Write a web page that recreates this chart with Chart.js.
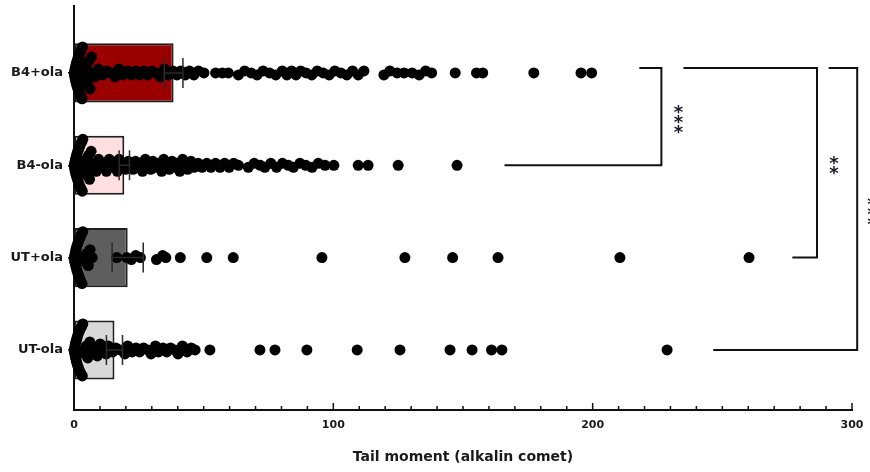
<!DOCTYPE html>
<html>
<head>
<meta charset="utf-8">
<script src="https://cdn.jsdelivr.net/npm/chart.js@4.4.1/dist/chart.umd.min.js"></script>
<style>
  html, body { margin: 0; padding: 0; background: #fff; }
  #wrap { width: 870px; height: 472px; }
</style>
</head>
<body>
<div id="wrap"><canvas id="comet"></canvas></div>
<script>
// groups, bottom row first
var groups = ['UT-ola', 'UT+ola', 'B4-ola', 'B4+ola'];
var means = [15.6, 20.7, 19.4, 38.4];
var sems = [3.1, 6.0, 2.0, 3.6];

// individual cells (tail moment)
var utMinus = [0.1, 0.2, 0.3, 0.4, 0.5, 0.6, 0.8, 0.9, 1.0, 1.2, 1.3, 1.5, 1.7, 1.9, 2.1, 2.3, 2.6, 2.9, 3.2, 3.4,
  3.8, 4.2, 4.7, 5.3, 6.1, 7.4, 8.2, 9.0, 10.1, 11.2, 12.4, 13.2, 14.9, 16.1, 17.8, 19.6, 20.7, 22.4, 23.9, 25.3,
  26.8, 28.5, 29.7, 31.4, 32.6, 34.3, 35.8, 37.2, 38.9, 40.1, 41.8, 43.6, 45.2, 46.7, 52.4, 71.7, 77.5, 89.8,
  109.2, 125.7, 145.0, 153.5, 161.0, 165.0, 228.7];
var utPlus = [0.1, 0.2, 0.3, 0.5, 0.6, 0.7, 0.9, 1.0, 1.2, 1.4, 1.6, 1.8, 2.0, 2.3, 2.5, 2.8, 3.1, 3.4, 3.9, 4.3,
  4.8, 5.5, 6.2, 7.0, 16.5, 20.4, 22.1, 23.8, 25.6, 31.8, 34.2, 35.4, 41.0, 51.2, 61.4, 95.6, 127.6, 146.0,
  163.5, 210.5, 260.3];
var b4Minus = [0.1, 0.2, 0.3, 0.4, 0.5, 0.6, 0.7, 0.9, 1.0, 1.1, 1.3, 1.4, 1.6, 1.8, 1.9, 2.1, 2.3, 2.5, 2.7, 3.0,
  3.2, 3.4, 3.7, 4.0, 4.3, 4.7, 5.1, 5.6, 6.0, 6.6, 7.2, 7.9, 8.6, 9.5, 10.6, 11.4, 12.5, 13.6, 14.4, 15.5, 16.7,
  17.4, 18.6, 19.8, 20.9, 21.6, 22.8, 23.7, 24.9, 25.6, 26.4, 27.5, 28.3, 29.6, 30.4, 31.7, 32.5, 33.8, 34.6,
  35.9, 36.7, 37.8, 38.9, 39.6, 40.8, 41.9, 42.7, 43.8, 45.1, 46.3, 47.9, 49.4, 51.2, 52.8, 54.6, 56.3, 58.1,
  59.8, 61.6, 63.4, 67.2, 69.5, 71.8, 73.6, 75.9, 78.1, 80.4, 82.7, 84.6, 87.1, 89.4, 91.8, 94.2, 96.8, 100.2,
  109.6, 113.4, 125.0, 147.7];
var b4Plus = [0.1, 0.2, 0.3, 0.4, 0.5, 0.6, 0.7, 0.8, 0.9, 1.0, 1.2, 1.3, 1.5, 1.6, 1.8, 2.0, 2.1, 2.3, 2.5, 2.7,
  2.9, 3.1, 3.3, 3.6, 3.9, 4.2, 4.5, 4.9, 5.3, 5.7, 6.2, 6.8, 7.4, 8.1, 9.4, 11.0, 12.6, 14.1, 15.8, 17.3, 18.9,
  20.6, 22.2, 23.7, 25.3, 26.9, 28.4, 30.1, 31.6, 33.2, 34.9, 36.4, 38.1, 39.7, 41.2, 42.9, 44.5, 46.2, 48.0,
  50.1, 54.6, 57.2, 59.5, 63.4, 65.8, 68.3, 70.6, 72.9, 75.4, 77.8, 80.3, 82.1, 83.9, 85.6, 87.4, 89.5, 91.7,
  93.8, 96.1, 98.4, 100.6, 102.9, 105.2, 107.4, 109.6, 111.8, 119.5, 121.8, 124.6, 127.3, 130.4, 133.1, 135.6,
  137.9, 147.0, 155.2, 157.6, 177.3, 195.5, 199.6];
var cells = [utMinus, utPlus, b4Minus, b4Plus];

var xTicks = [0, 100, 200, 300];
var sigLabels = ['***', '**', '***'];

var barFill = ['#d9d9d9', '#5e5e5e', '#ffdfdf', '#9a0000'];

// bracket layout in axis units: compared rows, where top/bottom arms start, vertical arm
var brackets = [
  { hi: 3, lo: 2, topFrom: 218, botFrom: 166, at: 226.5 },
  { hi: 3, lo: 1, topFrom: 235, botFrom: 277, at: 286.5 },
  { hi: 3, lo: 0, topFrom: 291, botFrom: 246.5, at: 302 }
];

// spread cells sharing a value bin vertically, like a prism scatter
function swarm(vals, row) {
  var binW = 3.5, pxPerRow = 92.5, maxSpan = 52, maxStep = 4;
  var bins = {};
  vals.forEach(function (v) {
    var b = Math.floor(v / binW);
    (bins[b] = bins[b] || []).push(v);
  });
  var out = [];
  Object.keys(bins).forEach(function (k) {
    var list = bins[k].slice().sort(function (a, b) { return a - b; });
    var n = list.length;
    var step = n > 1 ? Math.min(maxStep, maxSpan / (n - 1)) : 0;
    var slots = [];
    for (var j = 0; j < n; j++) slots.push((j - (n - 1) / 2) * step);
    slots.sort(function (a, b) { return Math.abs(a) - Math.abs(b); });
    list.forEach(function (v, i) {
      out.push({ x: v, y: row + slots[i] / pxPerRow });
    });
  });
  return out;
}

var errorBars = {
  id: 'errorBars',
  afterDatasetsDraw: function (chart) {
    var ctx = chart.ctx, x = chart.scales.x, y = chart.scales.y;
    ctx.save();
    ctx.strokeStyle = '#2b2b2b';
    ctx.lineWidth = 1.5;
    means.forEach(function (m, i) {
      var cy = y.getPixelForValue(i);
      var lo = x.getPixelForValue(m - sems[i]), hi = x.getPixelForValue(m + sems[i]);
      ctx.beginPath();
      ctx.moveTo(lo, cy); ctx.lineTo(hi, cy);
      ctx.moveTo(lo, cy - 15); ctx.lineTo(lo, cy + 15);
      ctx.moveTo(hi, cy - 15); ctx.lineTo(hi, cy + 15);
      ctx.stroke();
    });
    ctx.restore();
  }
};

var axisTicks = {
  id: 'axisTicks',
  afterDraw: function (chart) {
    var ctx = chart.ctx, x = chart.scales.x, base = chart.chartArea.bottom;
    ctx.save();
    ctx.strokeStyle = '#111';
    ctx.lineWidth = 1.5;
    for (var v = 10; v <= 300; v += 10) {
      var px = x.getPixelForValue(v);
      var len = xTicks.indexOf(v) >= 0 ? 7 : 4;
      ctx.beginPath();
      ctx.moveTo(px, base); ctx.lineTo(px, base - len);
      ctx.stroke();
    }
    ctx.restore();
  }
};

var sigBrackets = {
  id: 'sigBrackets',
  afterDraw: function (chart) {
    var ctx = chart.ctx, x = chart.scales.x, y = chart.scales.y;
    ctx.save();
    ctx.strokeStyle = '#111';
    ctx.lineWidth = 2;
    ctx.fillStyle = '#1a1a2a';
    ctx.font = 'bold 18px "DejaVu Sans"';
    ctx.textAlign = 'center';
    ctx.textBaseline = 'alphabetic';
    brackets.forEach(function (b, i) {
      var top = y.getPixelForValue(b.hi) - 5;
      var bot = y.getPixelForValue(b.lo);
      var vx = x.getPixelForValue(b.at);
      ctx.beginPath();
      ctx.moveTo(x.getPixelForValue(b.topFrom), top);
      ctx.lineTo(vx, top);
      ctx.lineTo(vx, bot);
      ctx.lineTo(x.getPixelForValue(b.botFrom), bot);
      ctx.stroke();
      var stars = sigLabels[i].split('');
      var mid = (top + bot) / 2, gap = 10;
      // the last label runs off the right edge, as in the source figure
      var sx = Math.min(vx + 17, chart.width + 2);
      stars.forEach(function (s, k) {
        var sy = mid + (k - (stars.length - 1) / 2) * gap;
        ctx.fillText(s, sx, sy + 11);
      });
    });
    ctx.restore();
  }
};

Chart.defaults.font.family = '"DejaVu Sans", sans-serif';
Chart.defaults.color = '#1a1a1a';

var datasets = [{
  type: 'bar',
  indexAxis: 'y',
  data: means.map(function (m, i) { return { x: m, y: i }; }),
  backgroundColor: barFill,
  borderColor: '#1f1f1f',
  borderWidth: 2,
  borderSkipped: false,
  barPercentage: 0.8,
  categoryPercentage: 0.8,
  order: 2
}];
cells.forEach(function (vals, i) {
  datasets.push({
    type: 'scatter',
    data: swarm(vals, i),
    pointRadius: 5.5,
    pointBackgroundColor: '#000',
    pointBorderWidth: 0,
    pointHoverRadius: 5.5,
    clip: false,
    order: 1
  });
});

new Chart(document.getElementById('comet'), {
  type: 'scatter',
  data: { datasets: datasets },
  options: {
    responsive: true,
    maintainAspectRatio: false,
    animation: false,
    layout: { padding: { top: 0, right: 18, left: 0, bottom: 0 } },
    plugins: { legend: { display: false }, tooltip: { enabled: false } },
    scales: {
      x: {
        type: 'linear',
        min: 0,
        max: 300,
        offset: false,
        afterBuildTicks: function (scale) {
          scale.ticks = xTicks.map(function (v) { return { value: v }; });
        },
        ticks: { padding: 9, font: { size: 11, weight: 'bold' }, color: '#1a1a1a' },
        grid: { display: true, drawOnChartArea: false, drawTicks: false, offset: false },
        border: { display: true, color: '#111', width: 2 },
        title: {
          display: true,
          text: 'Tail moment (alkalin comet)',
          font: { size: 14, weight: 'bold' },
          color: '#1a1a1a',
          padding: { top: 4, bottom: 6 }
        },
        afterFit: function (scale) {
          scale.height = 62;
          scale.paddingLeft = 0;
          scale.paddingRight = 0;
        }
      },
      y: {
        type: 'linear',
        min: -0.65,
        max: 3.73,
        offset: false,
        afterBuildTicks: function (scale) {
          scale.ticks = groups.map(function (g, i) { return { value: i }; });
        },
        ticks: {
          padding: 5,
          font: { size: 13, weight: 'bold' },
          color: '#1a1a1a',
          callback: function (v) { return groups[v]; }
        },
        grid: { display: true, offset: false, drawOnChartArea: false, drawTicks: true, tickLength: 6, color: '#111', lineWidth: 1.5 },
        border: { display: true, color: '#111', width: 2 },
        afterFit: function (scale) {
          scale.width = 74;
          scale.paddingTop = 0;
          scale.paddingBottom = 0;
        }
      }
    }
  },
  plugins: [errorBars, axisTicks, sigBrackets]
});
</script>
</body>
</html>
